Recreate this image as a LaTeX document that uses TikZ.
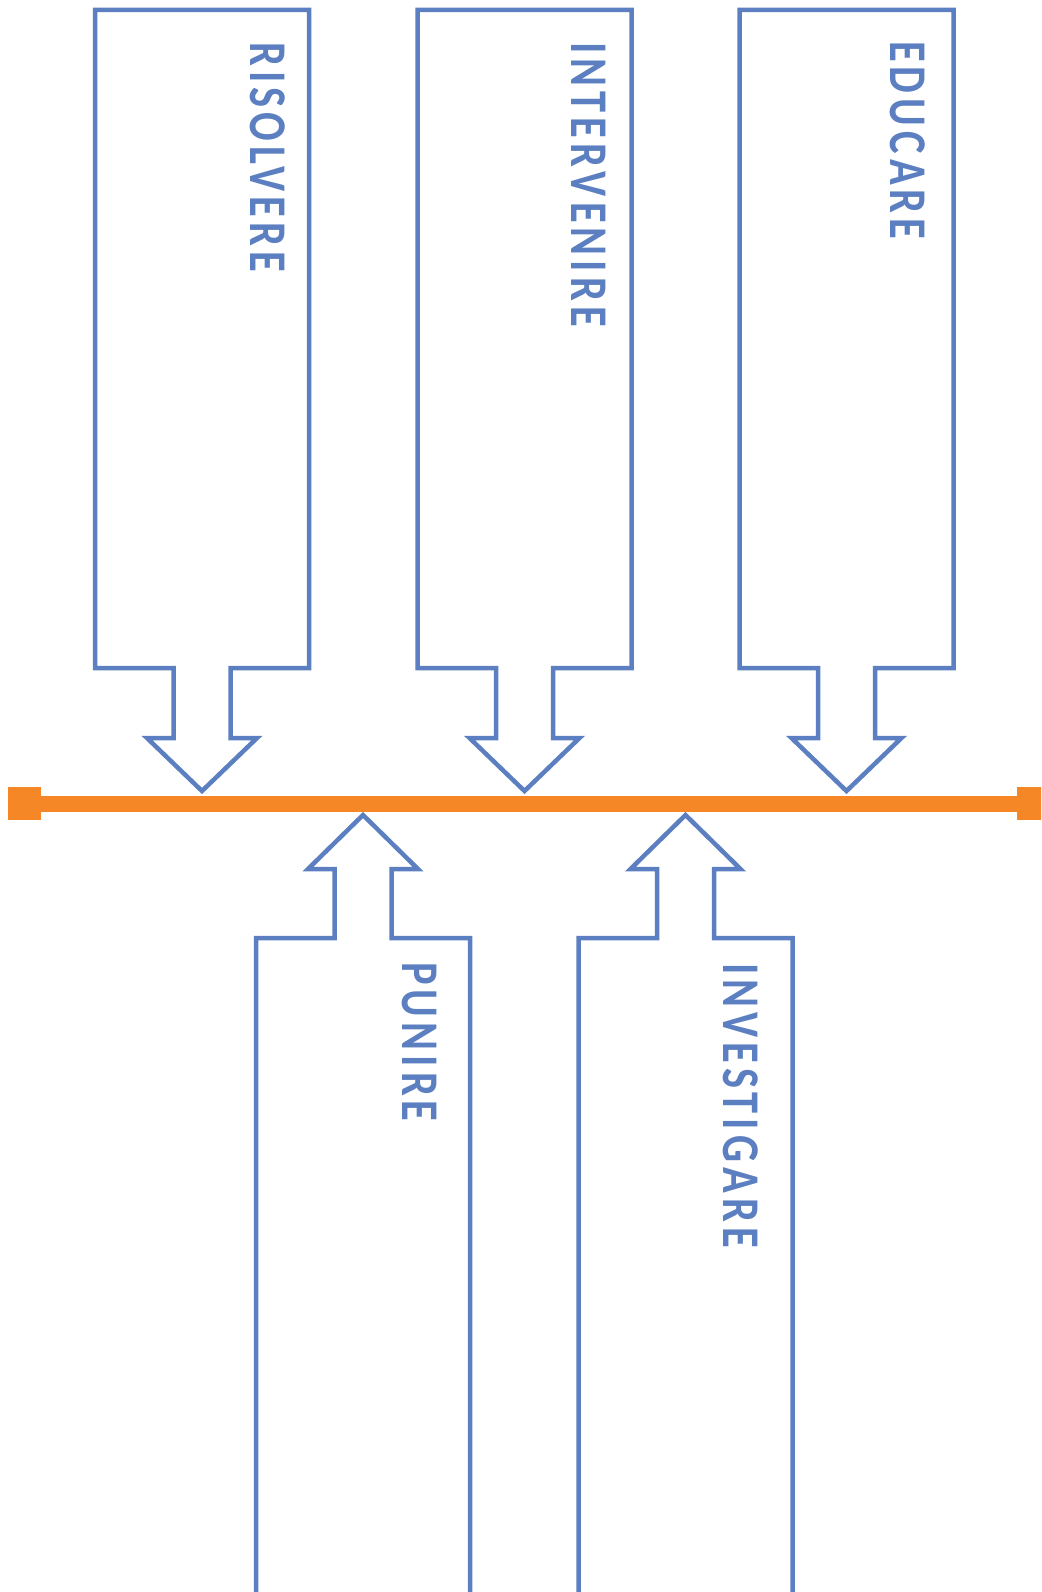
\documentclass[tikz,border=0pt]{standalone}
\usepackage{fontspec}
\setmainfont{Carlito}
\newfontfamily\labelfont[LetterSpace=12]{Carlito}
\definecolor{arrowblue}{HTML}{5B7FC0}
\definecolor{barorange}{HTML}{F58727}

\newcommand\narrow[1]{\scalebox{0.8}[1]{#1}}

\tikzset{
  blockarrow/.style={draw=arrowblue, line width=4.5pt, line join=miter, miter limit=10},
  arrowlabel/.style={text=arrowblue, font=\labelfont\fontsize{53}{53}\selectfont\bfseries,
    rotate=-90, anchor=west, inner sep=0pt, text height=33.5pt, text depth=0pt},
  barend/.style={fill=barorange, minimum size=33pt, inner sep=0pt},
  bar/.style={draw=barorange, line width=16pt}
}

\begin{document}
\begin{tikzpicture}[x=1pt, y=-1pt]
\useasboundingbox (0,0) rectangle (1041,1592);
\clip (0,0) rectangle (1041,1592);

% downward block arrows: box 214 wide, shaft 57, head 110
\foreach \c/\name in {202/risolvere, 524.5/intervenire, 846.5/educare}{
  \draw[blockarrow] (\c-107,10) -- (\c+107,10) -- (\c+107,668) -- (\c+28.5,668)
    -- (\c+28.5,738) -- (\c+55,738) -- (\c,791) coordinate (tip-\name)
    -- (\c-55,738) -- (\c-28.5,738) -- (\c-28.5,668) -- (\c-107,668) -- cycle;
}

% upward block arrows, boxes running off the bottom edge
\foreach \c/\name in {363/punire, 685.5/investigare}{
  \draw[blockarrow] (\c-107,1610) -- (\c-107,938) -- (\c-28.5,938) -- (\c-28.5,869)
    -- (\c-55,869) -- (\c,815) coordinate (tip-\name) -- (\c+55,869)
    -- (\c+28.5,869) -- (\c+28.5,938) -- (\c+107,938) -- (\c+107,1610);
}

% labels
\node[arrowlabel] (l-risolvere)   at (267,42)   {\narrow{RISOLVERE}};
\node[arrowlabel] (l-intervenire) at (588,42)   {\narrow{INTERVENIRE}};
\node[arrowlabel] (l-educare)     at (907.5,41) {\narrow{EDUCARE}};
\node[arrowlabel] (l-punire)      at (419,962)  {\narrow{PUNIRE}};
\node[arrowlabel] (l-investigare) at (740,963)  {\narrow{INVESTIGARE}};

% orange timeline with square ends
\node[barend] (left-end)  at (24.5,803.5) {};
\node[barend] (right-end) at (1033.5,803.5) {};
\draw[bar] (left-end) -- (right-end);
\end{tikzpicture}
\end{document}
